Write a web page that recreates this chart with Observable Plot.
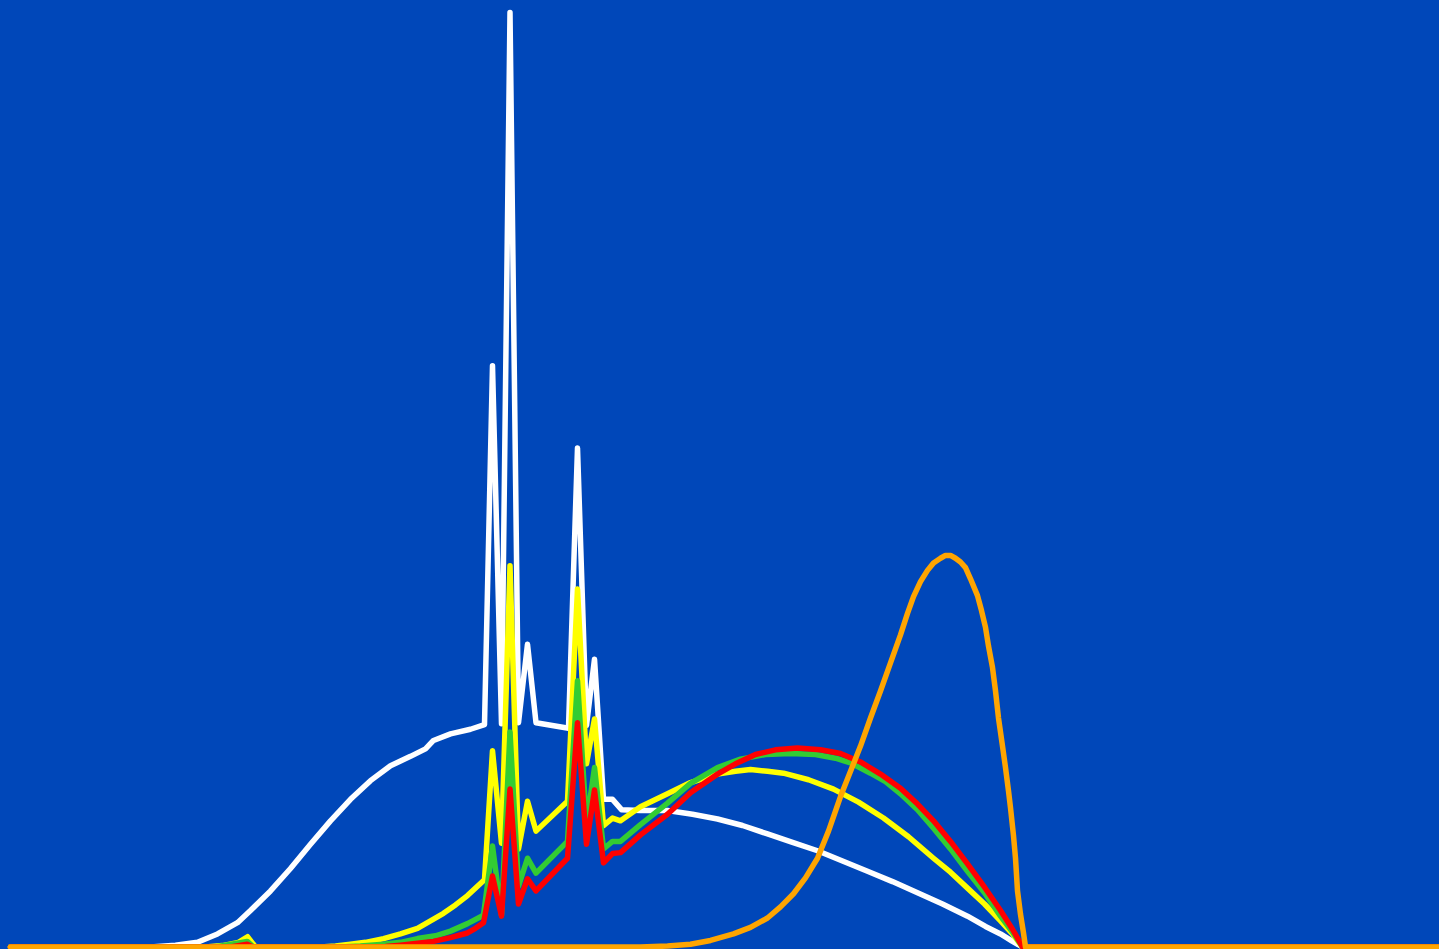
<!DOCTYPE html>
<html>
<head>
<meta charset="utf-8">
<script src="https://cdn.jsdelivr.net/npm/d3@7"></script>
<script src="https://cdn.jsdelivr.net/npm/@observablehq/plot@0.6"></script>
<style>
  html, body { margin: 0; padding: 0; background: #0047b9; overflow: hidden; }
  #chart svg { display: block; }
</style>
</head>
<body>
<div id="chart"></div>
<script>
// Wavelength-like x values and relative intensity (% of max) y values
const whiteX = [350,420,432.5,443.5,453.5,463.5,470,480,490,500,510,520,530,540,550,557.5,561.5,570,580,587,591,595.5,599.75,604,608.5,612.75,629,633.5,638,642,646.5,651,655.5,665,678.5,691,703.5,716,728.5,741,753.5,766,778.5,791,803.5,816,828.5,837.5,845,851,856,1066];
const whiteY = [0,0,0.2,0.5,1.4,2.6,3.9,6.0,8.4,11.0,13.5,15.8,17.8,19.4,20.4,21.2,22.1,22.8,23.3,23.8,62.2,23.9,100,24.0,32.4,24.0,23.4,53.4,23.7,30.8,15.8,15.8,14.7,14.6,14.6,14.2,13.7,13.0,12.1,11.2,10.3,9.2,8.1,7.0,5.8,4.6,3.3,2.2,1.4,0.6,0,0];

const yellowX = [350,447.5,456,464,468.5,472.5,505,512.5,520,527.5,536.5,545,553.5,560,566.5,572.5,578.5,587,591,595.5,599.75,604,608.5,612.75,628.5,633.5,638,642,646.5,651,655,665,678.5,690,703.5,712.5,720,728.5,736.5,749,761.5,774,786.5,799,811.5,820,828.5,837,845,851,856,1066];
const yellowY = [0,0,0.15,0.5,1.1,0,0,0.1,0.3,0.5,0.9,1.4,2.0,2.8,3.6,4.5,5.5,7.2,21.0,11.1,40.8,10.5,15.6,12.4,15.6,38.3,19.6,24.4,13.0,13.8,13.5,15.0,16.4,17.6,18.5,18.8,19.0,18.8,18.6,17.9,16.9,15.5,13.8,11.8,9.5,8.0,6.3,4.6,2.8,1.4,0,0];

const greenX = [350,452.5,468.35,471.5,515,525,536.5,545,553.5,562.5,570,578.5,586.5,591,595.5,599.75,604,608.5,612.75,628.5,633.5,638,642,646.5,651,655,665,678.5,690,703.5,715,727.5,740,752.5,762.5,770,780,787.5,795,803.5,811.5,820,828.5,837,845,851,856,1066];
const greenY = [0,0,0.6,0,0,0.1,0.3,0.5,0.9,1.2,1.7,2.5,3.4,10.8,3.4,23.0,6.5,9.5,7.9,11.3,28.5,13.2,19.2,10.5,11.3,11.3,13.1,15.4,17.5,19.2,20.1,20.6,20.7,20.6,20.2,19.7,18.6,17.7,16.4,14.7,12.7,10.5,8.1,5.8,3.3,1.6,0,0];

const redX = [350,460,468.35,471,530,537.5,545,553.5,561.5,570,578.5,582.5,586.5,591,595.5,599.75,604,608.5,612.75,628.5,633.5,638,642,646.5,651,655,665,678.5,690,703.5,712.5,722.5,732.5,743.5,755,765,775,785,795,803.5,811.5,820,828.5,837,845,851,856,1066];
const redY = [0,0,0.3,0,0,0.05,0.2,0.4,0.6,1.0,1.5,2.0,2.6,7.6,3.3,16.9,4.6,7.3,6.0,9.5,24.0,11.0,16.8,9.0,10.0,10.1,12.0,14.2,16.5,18.5,19.6,20.6,21.1,21.3,21.1,20.7,19.8,18.5,17.0,15.3,13.5,11.3,8.9,6.4,3.9,1.9,0,0];

const orangeX = [350,645,665,678.5,690,700,711.5,720,728.5,735,741.5,747.5,753.5,759,765,771.5,775,780,785,790,795,798.5,801.5,805,808.5,811.5,815,817.5,820,822.5,825,827.5,830,833.5,835.5,837.5,839,841,842.5,844,846,847.5,849,850,851.5,852.5,853.5,855,856.5,857.5,1066];
const orangeY = [0,0,0,0.1,0.3,0.7,1.4,2.1,3.1,4.3,5.7,7.4,9.5,12.4,16.1,19.6,21.5,24.5,27.4,30.4,33.4,35.7,37.5,39.1,40.3,41.1,41.6,41.9,41.9,41.6,41.2,40.6,39.4,37.6,36.0,34.2,32.2,29.9,27.4,24.5,21.5,19.2,16.7,14.9,11.9,9.5,6.0,3.5,1.5,0,0];

const seriesNames = ["white", "yellow", "green", "red", "orange"];
const seriesColors = ["#ffffff", "#ffff00", "#33cc33", "#ff0000", "#ffa500"];
const seriesX = [whiteX, yellowX, greenX, redX, orangeX];
const seriesY = [whiteY, yellowY, greenY, redY, orangeY];

const marks = seriesNames.map((name, i) => {
  const rows = seriesX[i].map((x, j) => ({x, y: seriesY[i][j]}));
  return Plot.line(rows, {
    x: "x", y: "y",
    stroke: seriesColors[i],
    strokeWidth: 5.5,
    strokeLinejoin: "round",
    strokeLinecap: "round"
  });
});

const chart = Plot.plot({
  width: 1439,
  height: 949,
  marginLeft: 0,
  marginRight: 0,
  marginTop: 12,
  marginBottom: 2.5,
  x: {domain: [345, 1064.5], axis: null},
  y: {domain: [0, 100], axis: null},
  style: {background: "#0047b9", overflow: "hidden"},
  marks
});
document.getElementById("chart").appendChild(chart);
</script>
</body>
</html>
